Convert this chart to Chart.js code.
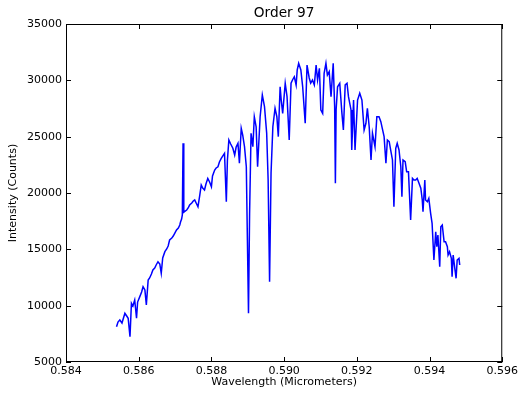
<!DOCTYPE html>
<html>
<head>
<meta charset="utf-8">
<script src="https://cdn.jsdelivr.net/npm/chart.js@4.4.0/dist/chart.umd.min.js"></script>
<style>
  html, body { margin: 0; padding: 0; background: #fff; }
  #wrap { width: 521px; height: 393px; }
</style>
</head>
<body>
<div id="wrap"><canvas id="spectrumChart" width="521" height="393"></canvas></div>
<script>
// wavelength in micrometers
const wavelength = [
  0.58539, 0.58543, 0.58548, 0.58554, 0.58562, 0.58567, 0.58571, 0.58576, 0.58580, 0.58584,
  0.58589, 0.58594, 0.58597, 0.58603, 0.58608, 0.58612, 0.58617, 0.58621, 0.58626, 0.58630,
  0.58635, 0.58639, 0.58644, 0.58648, 0.58653, 0.58658, 0.58662, 0.58666, 0.58672, 0.58677,
  0.58681, 0.58685, 0.58691, 0.58695, 0.58699, 0.58704, 0.58709, 0.58713, 0.58715, 0.58718,
  0.58720, 0.58722, 0.58724, 0.58732, 0.58736, 0.58740, 0.58746, 0.58750, 0.58754, 0.58758,
  0.58763, 0.58768, 0.58772, 0.58776, 0.58781, 0.58785, 0.58790, 0.58795, 0.58800, 0.58803,
  0.58809, 0.58813, 0.58818, 0.58822, 0.58827, 0.58831, 0.58836, 0.58841, 0.58844, 0.58848,
  0.58853, 0.58859, 0.58864, 0.58868, 0.58873, 0.58877, 0.58882, 0.58886, 0.58891, 0.58896,
  0.58899, 0.58902, 0.58905, 0.58909, 0.58914, 0.58918, 0.58923, 0.58927, 0.58934, 0.58940,
  0.58946, 0.58952, 0.58956, 0.58960, 0.58964, 0.58969, 0.58975, 0.58980, 0.58984, 0.58989,
  0.58992, 0.58996, 0.59003, 0.59008, 0.59014, 0.59019, 0.59023, 0.59028, 0.59033, 0.59036,
  0.59040, 0.59046, 0.59051, 0.59058, 0.59063, 0.59069, 0.59073, 0.59078, 0.59083, 0.59088,
  0.59092, 0.59097, 0.59101, 0.59106, 0.59110, 0.59115, 0.59119, 0.59124, 0.59129, 0.59135,
  0.59139, 0.59141, 0.59143, 0.59147, 0.59153, 0.59159, 0.59163, 0.59168, 0.59173, 0.59177,
  0.59184, 0.59186, 0.59191, 0.59195, 0.59202, 0.59208, 0.59214, 0.59220, 0.59225, 0.59229,
  0.59234, 0.59239, 0.59243, 0.59250, 0.59255, 0.59261, 0.59266, 0.59270, 0.59275, 0.59280,
  0.59284, 0.59289, 0.59293, 0.59298, 0.59302, 0.59307, 0.59311, 0.59316, 0.59321, 0.59324,
  0.59327, 0.59333, 0.59337, 0.59342, 0.59348, 0.59353, 0.59357, 0.59362, 0.59366, 0.59371,
  0.59376, 0.59380, 0.59382, 0.59387, 0.59389, 0.59394, 0.59398, 0.59403, 0.59407, 0.59412,
  0.59417, 0.59420, 0.59423, 0.59428, 0.59431, 0.59435, 0.59440, 0.59444, 0.59449, 0.59451,
  0.59455, 0.59460, 0.59462, 0.59465, 0.59470, 0.59473, 0.59476, 0.59481, 0.59483
];

// intensity in counts
const intensity = [
  8130, 8550, 8730, 8460, 9320, 9080, 8880, 7250, 10210, 9970,
  10500, 8880, 10320, 10800, 11210, 11680, 11390, 10060, 12280, 12460,
  12810, 13170, 13340, 13610, 13900, 13700, 12870, 14230, 14790, 15030,
  15300, 15830, 16000, 16180, 16420, 16720, 16890, 17160, 17430, 17690,
  18050, 24410, 18300, 18490, 18670, 18930, 19110, 19290, 19380, 19110,
  18780, 19820, 20710, 20440, 20270, 20800, 21300, 20980, 20560, 21510,
  22040, 22220, 22330, 22750, 23080, 23280, 23520, 19230, 22930, 24700,
  24350, 23970, 23370, 24080, 24410, 22640, 25740, 25150, 24110, 22330,
  15830, 9320, 18200, 25300, 24110, 26770, 25880, 22330, 26770, 28700,
  27660, 25300, 21150, 12130, 21750, 25880, 27520, 26770, 25000, 29430,
  28250, 27070, 29740, 28550, 24700, 29740, 30030, 30320, 29590, 30920,
  31510, 30920, 29430, 26190, 31360, 30210, 29760, 30030, 29590, 31360,
  30030, 31070, 27370, 27070, 30620, 31510, 30470, 30770, 28550, 31510,
  27660, 20860, 27370, 29430, 29740, 27070, 25590, 29590, 29740, 28550,
  27370, 23820, 28250, 23820, 28250, 28850, 28250, 25590, 26190, 27520,
  25880, 22930, 25300, 24110, 26770, 26770, 26330, 25740, 25000, 22640,
  24700, 24550, 23820, 22930, 18780, 23970, 24410, 23820, 22330, 19670,
  22930, 22780, 21890, 21890, 17600, 21300, 21150, 21150, 21300, 20860,
  20420, 19380, 18340, 21150, 19380, 19230, 19530, 18200, 17310, 14050,
  16560, 15230, 16270, 13460, 17010, 17160, 15680, 15680, 15230, 14500,
  14790, 14200, 12570, 14500, 13170, 12430, 14050, 14200, 13610
];

const xTicks = [0.584, 0.586, 0.588, 0.590, 0.592, 0.594, 0.596];
const yTicks = [5000, 10000, 15000, 20000, 25000, 30000, 35000];
const chartTitle = 'Order 97';

const FONT = '"DejaVu Sans", sans-serif';

// matplotlib-style frame with inward ticks on all four sides, title over the plot area
const framePlugin = {
    id: 'frame',
    afterDraw(chart) {
        const { ctx, chartArea: a, scales } = chart;
        ctx.save();
        ctx.strokeStyle = '#000';
        ctx.lineWidth = 1;
        ctx.strokeRect(a.left + 0.5, a.top + 0.5, a.right - a.left - 1, a.bottom - a.top - 1);
        const len = 5;
        ctx.beginPath();
        xTicks.forEach(v => {
            const px = Math.round(scales.x.getPixelForValue(v)) + 0.5;
            ctx.moveTo(px, a.bottom); ctx.lineTo(px, a.bottom - len);
            ctx.moveTo(px, a.top); ctx.lineTo(px, a.top + len);
        });
        yTicks.forEach(v => {
            const py = Math.round(scales.y.getPixelForValue(v)) + 0.5;
            ctx.moveTo(a.left, py); ctx.lineTo(a.left + len, py);
            ctx.moveTo(a.right, py); ctx.lineTo(a.right - len, py);
        });
        ctx.stroke();

        ctx.fillStyle = '#000';
        ctx.font = '13.7px ' + FONT;
        ctx.textAlign = 'center';
        ctx.textBaseline = 'middle';
        ctx.fillText(chartTitle, (a.left + a.right) / 2, 13);
        ctx.restore();
    }
};

const points = wavelength.map((w, i) => ({ x: w, y: intensity[i] }));

new Chart(document.getElementById('spectrumChart'), {
    type: 'line',
    data: {
        datasets: [{
            data: points,
            borderColor: '#0000ff',
            borderWidth: 1.5,
            pointRadius: 0,
            tension: 0,
            fill: false
        }]
    },
    options: {
        responsive: false,
        animation: false,
        layout: { padding: { left: 0, right: 18, top: 24, bottom: 0 } },
        plugins: {
            legend: { display: false },
            tooltip: { enabled: false },
            title: { display: false }
        },
        scales: {
            x: {
                type: 'linear',
                min: 0.584,
                max: 0.596,
                afterBuildTicks: s => { s.ticks = xTicks.map(v => ({ value: v })); },
                afterFit: s => { s.height = 31; },
                grid: { display: false, drawTicks: false },
                border: { display: false },
                ticks: {
                    color: '#000',
                    padding: 3,
                    maxRotation: 0,
                    font: { family: FONT, size: 11 },
                    callback: v => v.toFixed(3)
                },
                title: {
                    display: true,
                    text: 'Wavelength (Micrometers)',
                    color: '#000',
                    font: { family: FONT, size: 11 },
                    padding: { top: 0, bottom: 4 }
                }
            },
            y: {
                type: 'linear',
                min: 5000,
                max: 35000,
                afterBuildTicks: s => { s.ticks = yTicks.map(v => ({ value: v })); },
                afterFit: s => { s.width = 66; },
                grid: { display: false, drawTicks: false },
                border: { display: false },
                ticks: {
                    color: '#000',
                    padding: 4,
                    font: { family: FONT, size: 11 },
                    callback: v => String(v)
                },
                title: {
                    display: true,
                    text: 'Intensity (Counts)',
                    color: '#000',
                    font: { family: FONT, size: 11 },
                    padding: 7
                }
            }
        }
    },
    plugins: [framePlugin]
});
</script>
</body>
</html>
